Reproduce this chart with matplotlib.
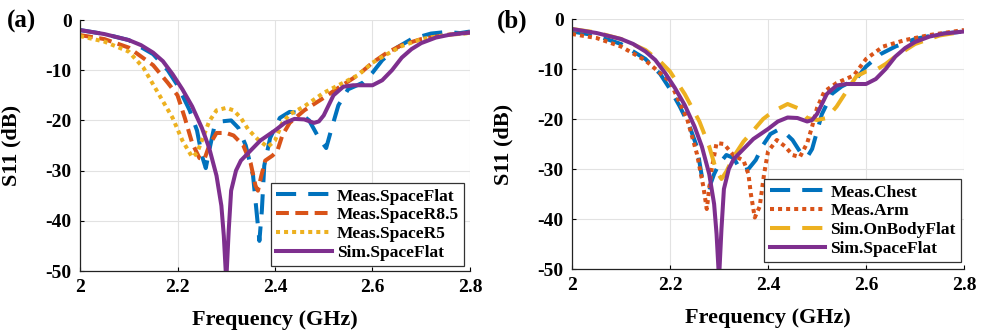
import matplotlib
matplotlib.use("Agg")
import matplotlib.pyplot as plt

# S11 curves (frequency in GHz, S11 in dB)
sim_space_f = [2.00, 2.05, 2.10, 2.125, 2.15, 2.17, 2.19, 2.21, 2.23, 2.25, 2.265, 2.28, 2.29,
               2.295, 2.300, 2.305, 2.31, 2.32, 2.33, 2.35, 2.37, 2.40, 2.42, 2.44,
               2.46, 2.48, 2.49, 2.50, 2.51, 2.52, 2.54, 2.56, 2.58, 2.60, 2.62, 2.64, 2.66,
               2.68, 2.70, 2.73, 2.76, 2.80]
sim_space_s = [-2.0, -2.8, -4.0, -5.0, -6.5, -8.2, -10.8, -13.8, -17.2, -21.5, -25.5, -31.0, -37.0,
               -43.0, -52.0, -42.0, -34.0, -30.0, -28.0, -26.0, -24.0, -22.0, -20.5, -19.7,
               -19.8, -20.5, -20.2, -19.0, -17.0, -15.0, -13.3, -13.0, -13.0, -13.0, -12.0, -10.0, -7.5,
               -5.8, -4.6, -3.5, -2.9, -2.5]

meas_flat_f = [2.00, 2.05, 2.10, 2.15, 2.18, 2.20, 2.225, 2.24, 2.25, 2.258, 2.265, 2.275,
               2.29, 2.31, 2.325, 2.34, 2.355, 2.362, 2.368, 2.373, 2.378, 2.39, 2.41, 2.43,
               2.45, 2.47, 2.49, 2.505, 2.515, 2.53, 2.55, 2.58, 2.60, 2.62, 2.65, 2.68,
               2.72, 2.75, 2.78, 2.80]
meas_flat_s = [-2.0, -2.8, -4.0, -6.8, -10.0, -13.0, -18.0, -22.0, -27.0, -29.5, -26.0, -21.5,
               -20.2, -20.0, -21.5, -25.0, -31.0, -38.0, -44.0, -38.0, -29.0, -23.5, -19.5, -18.3,
               -18.5, -20.0, -23.5, -25.5, -22.0, -17.0, -13.8, -12.5, -10.5, -8.0, -5.5, -3.8,
               -2.7, -2.4, -2.6, -2.3]

meas_r85_f = [2.00, 2.05, 2.10, 2.15, 2.18, 2.20, 2.215, 2.23, 2.245, 2.255, 2.265, 2.28,
              2.30, 2.315, 2.335, 2.35, 2.36, 2.365, 2.372, 2.38, 2.395, 2.405, 2.415, 2.43,
              2.46, 2.50, 2.53, 2.57, 2.60, 2.63, 2.66, 2.70, 2.75, 2.80]
meas_r85_s = [-3.0, -3.8, -5.5, -9.0, -12.5, -15.0, -19.5, -24.5, -27.5, -27.8, -25.0, -22.5,
              -22.5, -23.0, -25.0, -28.5, -33.0, -34.0, -31.0, -28.0, -27.0, -26.0, -23.0, -20.5,
              -18.0, -15.5, -13.5, -11.0, -8.5, -6.5, -5.0, -3.8, -3.0, -2.5]

meas_r5_f = [2.00, 2.05, 2.10, 2.13, 2.16, 2.19, 2.21, 2.23, 2.24, 2.25, 2.265, 2.28,
             2.30, 2.315, 2.33, 2.345, 2.365, 2.385, 2.40, 2.415, 2.43, 2.46, 2.50, 2.53,
             2.57, 2.60, 2.63, 2.66, 2.70, 2.75, 2.80]
meas_r5_s = [-3.2, -4.3, -6.3, -9.5, -14.5, -19.5, -24.0, -27.3, -26.5, -24.0, -20.2, -18.0,
             -17.5, -18.0, -19.5, -21.8, -23.8, -25.3, -24.0, -20.5, -18.8, -17.2, -14.5, -13.0,
             -11.0, -8.5, -6.8, -5.2, -3.8, -3.0, -2.6]

meas_chest_f = [2.00, 2.05, 2.10, 2.15, 2.18, 2.20, 2.22, 2.24, 2.255, 2.265, 2.28, 2.29,
                2.30, 2.315, 2.33, 2.345, 2.36, 2.375, 2.39, 2.405, 2.42, 2.435, 2.45, 2.465,
                2.48, 2.49, 2.50, 2.51, 2.53, 2.55, 2.58, 2.60, 2.63, 2.66, 2.70, 2.75, 2.80]
meas_chest_s = [-2.5, -3.3, -5.0, -8.0, -11.0, -14.0, -17.5, -21.5, -25.6, -31.5, -33.7, -31.0,
                -29.0, -27.2, -27.8, -30.4, -30.0, -28.2, -25.2, -23.0, -22.2, -22.8, -24.2, -26.5,
                -27.6, -26.0, -22.5, -19.0, -15.0, -13.5, -12.0, -9.5, -7.0, -5.5, -4.0, -3.0, -2.5]

meas_arm_f = [2.00, 2.05, 2.10, 2.15, 2.20, 2.235, 2.255, 2.268, 2.275, 2.285, 2.295, 2.31,
              2.33, 2.35, 2.36, 2.365, 2.373, 2.383, 2.392, 2.40, 2.418, 2.435, 2.45, 2.465,
              2.48, 2.49, 2.50, 2.515, 2.54, 2.575, 2.60, 2.635, 2.68, 2.73, 2.80]
meas_arm_s = [-3.0, -3.8, -5.5, -8.3, -12.5, -20.0, -27.0, -33.5, -38.0, -30.0, -24.8, -25.0,
              -27.3, -28.3, -31.0, -35.0, -39.7, -37.5, -31.0, -26.5, -24.2, -25.5, -27.2, -27.6,
              -24.8, -21.5, -17.8, -14.5, -12.8, -11.3, -8.0, -5.5, -4.2, -3.2, -2.2]

sim_body_f = [2.00, 2.05, 2.10, 2.15, 2.18, 2.20, 2.23, 2.26, 2.28, 2.295, 2.305, 2.315,
              2.33, 2.35, 2.37, 2.39, 2.41, 2.44, 2.46, 2.48, 2.50, 2.52, 2.54, 2.56,
              2.58, 2.60, 2.62, 2.64, 2.66, 2.70, 2.75, 2.80]
sim_body_s = [-2.0, -2.7, -4.0, -6.2, -8.5, -10.5, -15.0, -20.5, -25.5, -30.5, -32.0, -30.5,
              -27.5, -24.5, -22.3, -20.0, -18.5, -17.0, -17.8, -19.8, -20.2, -19.8, -17.5, -14.5,
              -11.5, -10.5, -10.2, -9.0, -7.5, -5.0, -3.3, -2.5]

x_ticks = [2.0, 2.2, 2.4, 2.6, 2.8]
x_labels = ["2", "2.2", "2.4", "2.6", "2.8"]
y_ticks = [0, -10, -20, -30, -40, -50]
y_labels = ["0", "-10", "-20", "-30", "-40", "-50"]

BLUE = "#0072BD"
ORANGE = "#D95319"
YELLOW = "#EDB120"
PURPLE = "#7E2F8E"
LW = 2.9

plt.rcParams["font.family"] = ["Liberation Serif", "DejaVu Serif"]
plt.rcParams["font.weight"] = "bold"


def style_axes(ax):
    ax.set_xlim(2.0, 2.8)
    ax.set_ylim(-50, 0)
    ax.set_xticks(x_ticks)
    ax.set_xticklabels(x_labels)
    ax.set_yticks(y_ticks)
    ax.set_yticklabels(y_labels)
    ax.tick_params(labelsize=14, direction="in", length=3, width=0.8, pad=6)
    for lab in ax.get_xticklabels() + ax.get_yticklabels():
        lab.set_fontweight("bold")
    ax.grid(True, color="#e2e2e2", linewidth=0.8)
    ax.set_axisbelow(True)
    for side in ("top", "right"):
        ax.spines[side].set_visible(False)
    for side in ("left", "bottom"):
        ax.spines[side].set_color("#222222")
        ax.spines[side].set_linewidth(0.9)
    ax.set_xlabel("Frequency (GHz)", fontsize=16, fontweight="bold")
    ax.set_ylabel("S11 (dB)", fontsize=16, fontweight="bold")
    ax.yaxis.set_label_coords(-0.15, 0.5)
    ax.xaxis.set_label_coords(0.5, -0.155)


def add_legend(ax, anchor):
    leg = ax.legend(loc="lower right", bbox_to_anchor=anchor, borderaxespad=0,
                    fancybox=False, framealpha=1, edgecolor="#333333",
                    prop={"size": 12.5, "weight": "bold"}, handlelength=3.2,
                    handletextpad=0.3, labelspacing=0.15, borderpad=0.3)
    leg.get_frame().set_linewidth(0.9)


fig = plt.figure(figsize=(9.83, 3.34), dpi=100)
ax_a = fig.add_axes([0.0814, 0.1886, 0.3967, 0.7515])
ax_b = fig.add_axes([0.5819, 0.1946, 0.3988, 0.7485])

# panel (a): space measurements
ax_a.plot(meas_flat_f, meas_flat_s, color=BLUE, lw=LW, dashes=(5, 3), label="Meas.SpaceFlat")
ax_a.plot(meas_r85_f, meas_r85_s, color=ORANGE, lw=LW, dashes=(3.2, 1.6), label="Meas.SpaceR8.5")
ax_a.plot(meas_r5_f, meas_r5_s, color=YELLOW, lw=LW, dashes=(1, 1), label="Meas.SpaceR5")
ax_a.plot(sim_space_f, sim_space_s, color=PURPLE, lw=LW, label="Sim.SpaceFlat")
style_axes(ax_a)
add_legend(ax_a, (0.985, 0.02))

# panel (b): on-body measurements
ax_b.plot(meas_chest_f, meas_chest_s, color=BLUE, lw=LW, dashes=(5, 3), label="Meas.Chest")
ax_b.plot(meas_arm_f, meas_arm_s, color=ORANGE, lw=LW, dashes=(1, 1), label="Meas.Arm")
ax_b.plot(sim_body_f, sim_body_s, color=YELLOW, lw=LW, dashes=(5, 3), label="Sim.OnBodyFlat")
ax_b.plot(sim_space_f, sim_space_s, color=PURPLE, lw=LW, label="Sim.SpaceFlat")
style_axes(ax_b)
add_legend(ax_b, (0.992, 0.028))

fig.text(0.007, 0.935, "(a)", fontsize=18, fontweight="bold", va="center", ha="left")
fig.text(0.505, 0.935, "(b)", fontsize=18, fontweight="bold", va="center", ha="left")

fig.savefig("out.png", dpi=100)
plt.close(fig)
